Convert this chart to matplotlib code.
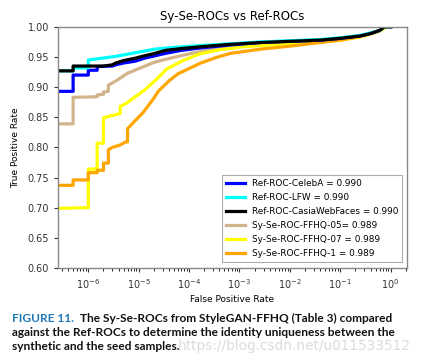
import matplotlib
matplotlib.use("Agg")
from matplotlib import pyplot as plt

# ROC vertices (fpr, tpr); repeated fpr = vertical step
celeba_fpr = [1e-7, 5e-7, 5e-7, 1e-6, 1e-6, 1.5e-6, 1.5e-6, 3e-6, 3.5e-6, 5e-6, 8.5e-6, 1.3e-5, 2.1e-5,
              3.4e-5, 7e-5, 1.7e-4, 6.6e-4, 2.6e-3, 1e-2, 4e-2, 0.1, 0.25, 0.4, 0.6, 0.75, 1.0]
celeba_tpr = [0.893, 0.893, 0.920, 0.920, 0.928, 0.928, 0.934, 0.935, 0.937, 0.940, 0.943, 0.948, 0.952,
              0.956, 0.961, 0.965, 0.970, 0.974, 0.976, 0.978, 0.981, 0.985, 0.989, 0.994, 1.0, 1.0]

lfw_fpr = [1e-7, 5e-7, 5e-7, 1e-6, 1e-6, 3.5e-6, 8.5e-6, 2.1e-5, 5e-5, 1.7e-4, 6.6e-4, 2.6e-3, 1e-2,
           4e-2, 0.1, 0.25, 0.4, 0.6, 0.75, 1.0]
lfw_tpr = [0.927, 0.927, 0.932, 0.932, 0.945, 0.951, 0.957, 0.963, 0.966, 0.969, 0.972, 0.975, 0.977,
           0.979, 0.982, 0.986, 0.990, 0.994, 1.0, 1.0]

casia_fpr = [1e-7, 5e-7, 5e-7, 2e-6, 3e-6, 3.5e-6, 5e-6, 8.5e-6, 1.3e-5, 2.1e-5, 3.4e-5, 7e-5, 1.7e-4,
             6.6e-4, 2.6e-3, 1e-2, 4e-2, 0.1, 0.25, 0.4, 0.6, 0.75, 1.0]
casia_tpr = [0.927, 0.927, 0.935, 0.935, 0.937, 0.940, 0.944, 0.948, 0.952, 0.956, 0.961, 0.964, 0.967,
             0.971, 0.974, 0.976, 0.978, 0.981, 0.985, 0.989, 0.994, 1.0, 1.0]

ffhq05_fpr = [1e-7, 5e-7, 5e-7, 1.5e-6, 1.5e-6, 2e-6, 2e-6, 2.5e-6, 2.5e-6, 3.8e-6, 6e-6, 1.1e-5, 2e-5,
              4.2e-5, 1.1e-4, 1.7e-4, 6.6e-4, 2.6e-3, 1e-2, 4e-2, 0.1, 0.25, 0.4, 0.6, 0.75, 1.0]
ffhq05_tpr = [0.839, 0.839, 0.883, 0.884, 0.887, 0.888, 0.892, 0.893, 0.903, 0.912, 0.923, 0.932, 0.941,
              0.948, 0.956, 0.959, 0.967, 0.971, 0.974, 0.976, 0.980, 0.984, 0.988, 0.993, 0.999, 1.0]

ffhq07_fpr = [1e-7, 1e-6, 1e-6, 1.5e-6, 1.5e-6, 2e-6, 2e-6, 3e-6, 4.3e-6, 4.3e-6, 5.4e-6, 8.6e-6, 1.3e-5,
              2.2e-5, 3.6e-5, 7.5e-5, 1.6e-4, 4e-4, 1.2e-3, 4e-3, 1e-2, 4e-2, 0.1, 0.25, 0.4, 0.6, 0.8, 1.0]
ffhq07_tpr = [0.698, 0.700, 0.764, 0.764, 0.807, 0.807, 0.849, 0.853, 0.856, 0.868, 0.872, 0.884, 0.895,
              0.912, 0.930, 0.944, 0.955, 0.962, 0.967, 0.970, 0.972, 0.975, 0.978, 0.983, 0.988, 0.993,
              0.999, 1.0]

ffhq1_fpr = [1e-7, 5e-7, 5e-7, 1e-6, 1e-6, 1.5e-6, 1.5e-6, 2e-6, 2e-6, 2.5e-6, 2.5e-6, 3e-6, 4.3e-6,
             5.5e-6, 6e-6, 6e-6, 8e-6, 1.2e-5, 1.9e-5, 2.5e-5, 4.2e-5, 6e-5, 1.07e-4, 1.7e-4, 3.4e-4,
             6.6e-4, 2.6e-3, 1e-2, 4e-2, 0.1, 0.25, 0.4, 0.6, 0.75, 1.0]
ffhq1_tpr = [0.737, 0.737, 0.746, 0.746, 0.758, 0.758, 0.762, 0.762, 0.774, 0.774, 0.796, 0.800, 0.804,
             0.809, 0.809, 0.831, 0.842, 0.857, 0.879, 0.894, 0.912, 0.922, 0.932, 0.940, 0.949,
             0.956, 0.963, 0.968, 0.974, 0.978, 0.984, 0.989, 0.994, 1.0, 1.0]

curves = [
    (celeba_fpr, celeba_tpr, "blue", "Ref-ROC-CelebA = 0.990"),
    (lfw_fpr, lfw_tpr, "cyan", "Ref-ROC-LFW = 0.990"),
    (casia_fpr, casia_tpr, "black", "Ref-ROC-CasiaWebFaces = 0.990"),
    (ffhq05_fpr, ffhq05_tpr, "tan", "Sy-Se-ROC-FFHQ-05= 0.989"),
    (ffhq07_fpr, ffhq07_tpr, "yellow", "Sy-Se-ROC-FFHQ-07 = 0.989"),
    (ffhq1_fpr, ffhq1_tpr, "orange", "Sy-Se-ROC-FFHQ-1 = 0.989"),
]

x_ticks = [1e-6, 1e-5, 1e-4, 1e-3, 1e-2, 1e-1, 1e0]
y_ticks = [0.60, 0.65, 0.70, 0.75, 0.80, 0.85, 0.90, 0.95, 1.00]

caption_lines = [
    "The Sy-Se-ROCs from StyleGAN-FFHQ (Table 3) compared",
    "against the Ref-ROCs to determine the identity uniqueness between the",
    "synthetic and the seed samples.",
]

fig = plt.figure(figsize=(4.23, 3.63), dpi=100)
ax = fig.add_axes([0.137, 0.262, 0.825, 0.664])

# synthetic curves go under the reference ones
order = [3, 4, 5, 0, 1, 2]
lines = {}
for k in order:
    f, t, c, lab = curves[k]
    lines[k], = ax.plot(f, t, color=c, lw=2.3, label=lab)

ax.set_xscale("log")
ax.set_xlim(2.5e-7, 2.1)
ax.set_ylim(0.6, 1.0)
ax.set_xticks(x_ticks)
ax.set_yticks(y_ticks)
ax.set_yticklabels(["%.2f" % v for v in y_ticks])
ax.tick_params(labelsize=7, length=3, width=0.8, colors="#333333")
ax.tick_params(which="minor", length=2, width=0.6)
for s in ax.spines.values():
    s.set_color("#888888")
    s.set_linewidth(1.0)

ax.set_title("Sy-Se-ROCs vs Ref-ROCs", fontsize=8.5, pad=5)
ax.set_xlabel("False Positive Rate", fontsize=6.5, labelpad=3)
ax.set_ylabel("True Positive Rate", fontsize=6.5, labelpad=5)

leg = ax.legend([lines[k] for k in range(6)], [curves[k][3] for k in range(6)],
                loc="lower right", fontsize=6.4, handlelength=2.1, borderpad=0.45,
                labelspacing=0.55, handletextpad=0.8, fancybox=False,
                borderaxespad=0, bbox_to_anchor=(0.986, 0.025))
leg.get_frame().set_edgecolor("#999999")
leg.get_frame().set_linewidth(0.8)
for h in leg.get_lines():
    h.set_linewidth(2.3)

# caption below the chart
cap_font = dict(fontsize=8.6, fontweight="bold", family="Lato")
fig.text(12 / 423, 1 - 318 / 363, "FIGURE 11.", color="#1f78b8", va="center", **cap_font)
fig.text(80 / 423, 1 - 318 / 363, caption_lines[0], color="#111111", va="center", **cap_font)
fig.text(12 / 423, 1 - 332 / 363, caption_lines[1], color="#111111", va="center", **cap_font)
fig.text(12 / 423, 1 - 346 / 363, caption_lines[2], color="#111111", va="center", **cap_font)
fig.text(178 / 423, 1 - 346 / 363, "https://blog.csdn.net/u011533512", color="#d8d8d8",
         fontsize=9.8, va="center", alpha=0.9)

fig.savefig("out.png", dpi=100)
